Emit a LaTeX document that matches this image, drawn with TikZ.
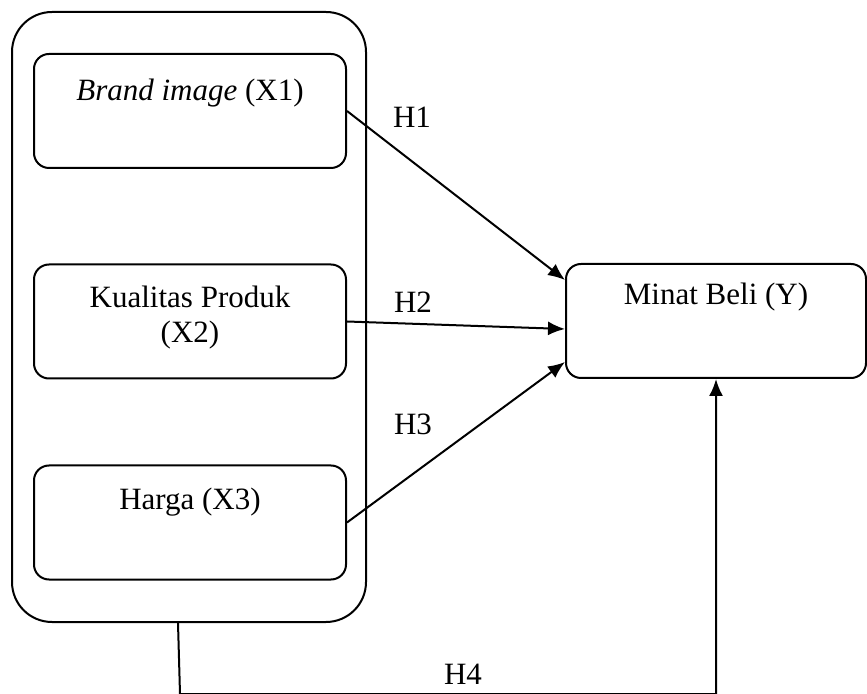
\documentclass[tikz,border=0pt]{standalone}
\usepackage{fontspec}
\setmainfont{Liberation Serif}
\usetikzlibrary{arrows.meta, positioning, calc}

\tikzset{
	varbox/.style={draw, rounded corners=7.5pt, line width=1pt, minimum width=156pt, minimum height=57pt, inner sep=0pt},
	groupbox/.style={draw, rounded corners=20pt, line width=1pt, minimum width=177pt, minimum height=305pt, inner sep=0pt},
	boxtext/.style={inner sep=0pt, align=center, font=\fontsize{15.5}{17.5}\selectfont},
	hyp/.style={inner sep=0pt, font=\fontsize{15.5}{17.5}\selectfont},
	link/.style={line width=1pt, -{Latex[length=8.5pt,width=7pt]}}
}

\begin{document}
\begin{tikzpicture}[x=0.5pt,y=-0.5pt]
	\useasboundingbox (0,0) rectangle (867,694);
	\node[groupbox] (group) at (189,317) {};
	\node[varbox] (x1) at (190,111) {};
	\node[varbox] (x2) at (190,321.5) {};
	\node[varbox] (x3) at (190,522.5) {};
	\node[varbox, minimum width=150pt] (y) at (716,321) {};
	\node[boxtext, below=13pt of x1.north] (x1txt) {\textit{Brand image} (X1)};
	\node[boxtext, below=11pt of x2.north] (x2txt) {Kualitas Produk\\(X2)};
	\node[boxtext, below=11.5pt of x3.north] (x3txt) {Harga (X3)};
	\node[boxtext, below=10pt of y.north] (ytxt) {Minat Beli (Y)};
	\draw[link] (x1.east) -- ($(y.west)+(0,-41)$);
	\draw[link] (x2.east) -- ($(y.west)+(0,8)$);
	\draw[link] (x3.east) -- ($(y.west)+(0,41)$);
	\coordinate (h4start) at ($(group.south)+(-11,0)$);
	\draw[link] (h4start) -- ++(2,71) -| (y.south);
	\node[hyp] (h1) at (412,117) {H1};
	\node[hyp] (h2) at (413,302.5) {H2};
	\node[hyp] (h3) at (413,424.5) {H3};
	\node[hyp] (h4) at (463,674) {H4};
\end{tikzpicture}
\end{document}
